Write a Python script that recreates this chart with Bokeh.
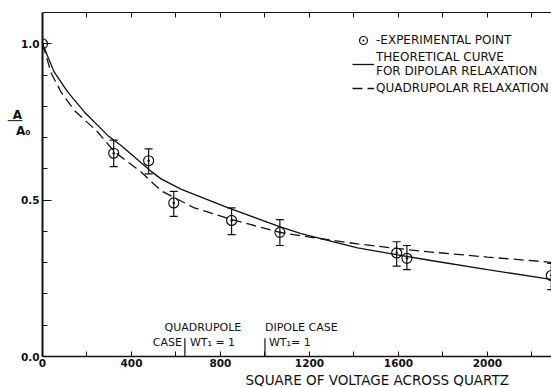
from bokeh.plotting import figure
from bokeh.models import (ColumnDataSource, Whisker, TeeHead, Label, Legend, LegendItem, Title,
                          LinearAxis, FixedTicker, Range1d, NumeralTickFormatter)
from bokeh.embed import file_html
from bokeh.resources import INLINE

# ---- data ----
point_x = [0, 320, 477, 590, 850, 1067, 1592, 1638, 2287]
point_y = [1.0, 0.650, 0.626, 0.491, 0.435, 0.397, 0.331, 0.314, 0.259]
err_lower = [1.0, 0.607, 0.584, 0.448, 0.390, 0.355, 0.289, 0.278, 0.214]
err_upper = [1.0, 0.692, 0.664, 0.528, 0.475, 0.438, 0.367, 0.355, 0.298]

dipolar_x = [0, 53, 113, 188, 293, 353, 488, 533, 622, 832, 982, 1066, 1162, 1416, 1596, 1746, 2000, 2290]
dipolar_y = [1.0, 0.909, 0.846, 0.782, 0.707, 0.675, 0.592, 0.568, 0.535, 0.476, 0.437, 0.415, 0.393,
             0.347, 0.325, 0.307, 0.278, 0.246]

quad_x = [0, 40, 83, 143, 248, 323, 443, 533, 683, 850, 1066, 1162, 1416, 1700, 2000, 2290]
quad_y = [1.0, 0.905, 0.846, 0.787, 0.718, 0.655, 0.590, 0.530, 0.475, 0.438, 0.397, 0.386, 0.360,
          0.337, 0.318, 0.301]

resonance_x = [640, 1000]          # wT1 = 1 markers (quadrupole, dipole)
resonance_top = [0.058, 0.058]

x_major = [0, 400, 800, 1200, 1600, 2000]
x_minor = [200, 600, 1000, 1400, 1800, 2200]
y_major = [0.0, 0.5, 1.0]
y_minor = [0.1, 0.2, 0.3, 0.4, 0.6, 0.7, 0.8, 0.9]
top_ticks = [200, 400, 600, 800, 1000, 1200, 1400, 1600, 1800, 2000, 2200]

# y-axis title "A over A0", written as a stacked fraction
ytitle_pos = [0.771, 0.7525, 0.7205]
ytitle_text = ["A\u00a0\u00a0", "\u2500\u2500\u00a0\u00a0", "A\u2080"]

FONT = "DejaVu Sans"
INK = "#111111"

p = figure(width=551, height=387, x_range=Range1d(0, 2288), y_range=Range1d(0, 1.1),
           output_backend="svg", toolbar_location=None,
           min_border_left=42, min_border_right=0, min_border_top=12, min_border_bottom=31)
p.grid.visible = False
p.outline_line_color = None
p.background_fill_color = "white"

# bottom axis
xa = p.xaxis[0]
xa.ticker = FixedTicker(ticks=x_major, minor_ticks=x_minor)
xa.major_tick_in = 5
xa.major_tick_out = 0
xa.minor_tick_in = 5
xa.minor_tick_out = 0
xa.axis_line_width = 1.5
xa.axis_line_color = INK
xa.major_tick_line_color = INK
xa.minor_tick_line_color = INK
xa.major_label_standoff = 2
xa.major_label_text_font = FONT
xa.major_label_text_font_style = "bold"
xa.major_label_text_font_size = "10.5px"
xa.major_label_text_color = INK

# left axis
ya = p.yaxis[0]
ya.ticker = FixedTicker(ticks=y_major, minor_ticks=y_minor)
ya.formatter = NumeralTickFormatter(format="0.0")
ya.major_tick_in = 9
ya.major_tick_out = 0
ya.minor_tick_in = 5
ya.minor_tick_out = 0
ya.axis_line_width = 2
ya.axis_line_color = INK
ya.major_tick_line_color = INK
ya.minor_tick_line_color = INK
ya.major_label_standoff = 3
ya.major_label_text_font = FONT
ya.major_label_text_font_style = "bold"
ya.major_label_text_font_size = "10.5px"
ya.major_label_text_color = INK

# extra left axis that only carries the stacked A/A0 title
ytitle_axis = LinearAxis(ticker=FixedTicker(ticks=ytitle_pos, minor_ticks=[]),
                         major_label_overrides={v: t for v, t in zip(ytitle_pos, ytitle_text)},
                         axis_line_color=None, major_tick_line_color=None, minor_tick_line_color=None,
                         major_tick_in=0, major_tick_out=0, minor_tick_in=0, minor_tick_out=0,
                         major_label_standoff=-13,
                         major_label_text_font=FONT, major_label_text_font_size="12px",
                         major_label_text_font_style="bold", major_label_text_color=INK)
p.add_layout(ytitle_axis, "left")

# top axis (unlabelled ticks only)
top = LinearAxis(ticker=FixedTicker(ticks=[], minor_ticks=top_ticks),
                 major_tick_in=0, major_tick_out=0, minor_tick_in=5, minor_tick_out=0,
                 major_label_standoff=0,
                 axis_line_width=1, axis_line_color=INK, minor_tick_line_color=INK)
p.add_layout(top, "above")

# x axis title
p.add_layout(Title(text="SQUARE OF VOLTAGE ACROSS QUARTZ", align="left", offset=203,
                   text_font=FONT, text_font_size="13.5px", text_font_style="normal",
                   text_color=INK, standoff=0), "below")

# curves
solid = p.line(dipolar_x, dipolar_y, line_color=INK, line_width=1.3)
dashed = p.line(quad_x, quad_y, line_color=INK, line_width=1.3, line_dash="10 5")

# error bars (only where there is an error)
wx, wl, wu = [], [], []
for x, lo, hi in zip(point_x, err_lower, err_upper):
    if hi > lo:
        wx.append(x); wl.append(lo); wu.append(hi)
wsrc = ColumnDataSource(dict(x=wx, lower=wl, upper=wu))
p.add_layout(Whisker(source=wsrc, base="x", lower="lower", upper="upper", dimension="height",
                     line_color=INK, line_width=1.2,
                     upper_head=TeeHead(size=8, line_color=INK, line_width=1.2),
                     lower_head=TeeHead(size=8, line_color=INK, line_width=1.2)))

pts = p.scatter(point_x, point_y, marker="circle_dot", size=10, fill_color=None,
                line_color=INK, line_width=1.2)

# resonance markers
p.segment(x0=resonance_x, y0=[0, 0], x1=resonance_x, y1=resonance_top, line_color=INK, line_width=1.2)

def lab(x, y, text, size="11px", align="left", xo=0):
    p.add_layout(Label(x=x, y=y, text=text, text_font=FONT, text_font_size=size,
                       text_align=align, text_baseline="middle", text_color=INK, x_offset=xo))

lab(resonance_x[0], 0.094, "QUADRUPOLE", align="center", xo=18)
lab(resonance_x[0], 0.046, "CASE", align="right", xo=-3)
lab(resonance_x[0], 0.046, "WT\u2081 = 1", align="left", xo=5)
lab(resonance_x[1], 0.094, "DIPOLE CASE", align="left", xo=0)
lab(resonance_x[1], 0.046, "WT\u2081= 1", align="left", xo=4)

legend = Legend(items=[
    LegendItem(label="-EXPERIMENTAL POINT", renderers=[pts]),
    LegendItem(label="THEORETICAL CURVE\nFOR DIPOLAR RELAXATION", renderers=[solid]),
    LegendItem(label="QUADRUPOLAR RELAXATION", renderers=[dashed]),
], location=(310, 258), orientation="vertical",
   border_line_color=None, background_fill_alpha=0, padding=0, margin=0, spacing=0,
   glyph_width=22, glyph_height=20, label_height=12, label_standoff=2,
   label_text_font=FONT, label_text_font_size="12px", label_text_color=INK,
   label_text_line_height=1.0)
p.add_layout(legend)

open("out.html", "w").write(file_html(p, INLINE))
